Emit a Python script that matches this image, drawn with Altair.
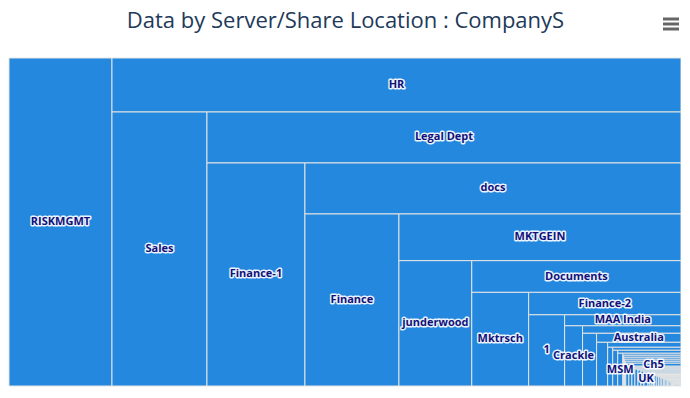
import altair as alt
import pandas as pd

# ---- data (estimated share sizes, arbitrary units) ----
head_names = [
    "RISKMGMT", "HR", "Sales", "Legal Dept", "Finance-1", "docs", "Finance",
    "MKTGEIN", "junderwood", "Documents", "Mktrsch", "Finance-2", "1",
    "MAA India", "Crackle", "", "", "Australia",
]
head_values = [
    3378, 3073, 2603, 2417, 2185, 1918, 1617,
    1317, 913, 663, 533, 342, 256,
    128, 108, 74, 74, 76,
]
tail_values = [
    48.4, 36.5, 19.5, 20.4, 18.0, 18.9, 16.5, 11.6, 1.9, 11.5,
    1.7, 11.4, 1.6, 11.2, 1.5, 11.1, 1.4, 16.5, 6.0, 5.1,
    5.7, 4.8, 5.4, 4.5, 5.1, 4.2, 4.8, 3.9, 4.5, 3.6,
    5.6, 3.2, 2.6, 2.4, 2.4, 2.0, 1.7, 1.6, 1.6, 1.3,
    2.0, 1.8, 1.7, 1.6, 1.5, 1.4, 1.3, 1.2, 1.2, 1.1,
    1.0, 1.0, 0.9, 0.9, 0.8, 0.8, 0.7, 0.7, 0.6, 0.6,
    0.5, 0.5, 0.4, 0.4, 0.3, 0.3, 0.2, 0.2, 0.2, 0.2,
    0.2, 0.2, 0.2, 0.2, 0.1, 0.1, 0.1, 0.1,
]
tail_labels = {6: "MSM", 17: "Ch5", 30: "UK"}

TITLE = "Data by Server/Share Location : CompanyS"
W, H = 672, 328

tail_names = [tail_labels.get(i, "") for i in range(len(tail_values))]
names = head_names + tail_names
values = head_values + tail_values

# ---- slice-and-dice layout (alternating direction per item) ----
rows = []
x0, y0, w, h = 0.0, 0.0, float(W), float(H)
remaining = float(sum(values))
vertical = True
for nm, v in zip(names, values):
    if remaining <= 0:
        break
    if vertical:
        ww = w * v / remaining
        r = (x0, y0, x0 + ww, y0 + h)
        x0 += ww
        w -= ww
    else:
        hh = h * v / remaining
        r = (x0, y0, x0 + w, y0 + hh)
        y0 += hh
        h -= hh
    remaining -= v
    vertical = not vertical
    rows.append({"name": nm, "value": v, "x0": r[0], "x1": r[2], "y0": r[1], "y1": r[3],
                 "cx": (r[0] + r[2]) / 2, "cy": (r[1] + r[3]) / 2})

df = pd.DataFrame(rows)

xs = alt.Scale(domain=[0, W], nice=False, zero=False)
ys = alt.Scale(domain=[0, H], nice=False, zero=False, reverse=True)

rects = alt.Chart(df).mark_rect(
    color="#2488de", stroke="#e4e4e4", strokeWidth=1
).encode(
    x=alt.X("x0:Q", scale=xs, axis=None),
    x2="x1:Q",
    y=alt.Y("y0:Q", scale=ys, axis=None),
    y2="y1:Q",
    tooltip=["name:N", "value:Q"],
)

lab = alt.Chart(df).transform_filter("datum.name != ''")
halo = lab.mark_text(
    font="Open Sans", fontWeight="bold", fontSize=11, stroke="#ffffff",
    strokeWidth=3, strokeJoin="round", color="#ffffff", opacity=0.9
).encode(x=alt.X("cx:Q", scale=xs), y=alt.Y("cy:Q", scale=ys), text="name:N")
text = lab.mark_text(
    font="Open Sans", fontWeight="bold", fontSize=11, color="#12127a"
).encode(x=alt.X("cx:Q", scale=xs), y=alt.Y("cy:Q", scale=ys), text="name:N")

title_df = pd.DataFrame({"t": [TITLE]})
title = alt.Chart(title_df).mark_text(
    font="Open Sans", fontSize=22, color="#22395a", align="center", baseline="alphabetic"
).encode(x=alt.value(W / 2 + 0.5), y=alt.value(-30), text="t:N")

menu = [
    alt.Chart(title_df).mark_rule(color="#666666", strokeWidth=3, strokeCap="butt").encode(
        x=alt.value(654), x2=alt.value(670), y=alt.value(yy)
    )
    for yy in (-39, -34, -29)
]

chart = alt.layer(rects, halo, text, title, *menu).properties(
    width=W, height=H,
    autosize=alt.AutoSizeParams(type="none"),
    padding={"left": 1, "top": 50, "right": 0, "bottom": 4},
).configure_view(stroke=None)

chart.save("out.html", embed_options={"renderer": "svg", "actions": False})
